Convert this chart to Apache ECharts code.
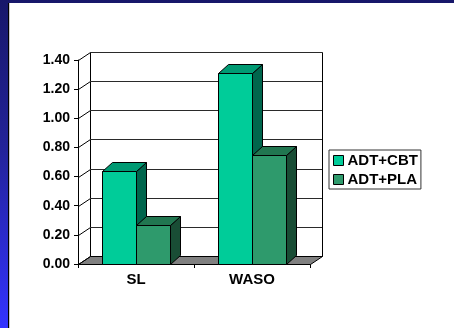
<!DOCTYPE html>
<html>
<head>
<meta charset="utf-8">
<script src="https://cdn.jsdelivr.net/npm/echarts@6/dist/echarts.min.js"></script>
<style>
  html, body { margin: 0; padding: 0; width: 454px; height: 328px; overflow: hidden; }
  body { background: linear-gradient(to bottom, #17176a 0%, #232399 45%, #3333ff 100%); position: relative; }
  #sheet { position: absolute; left: 8px; top: 3px; right: 0; bottom: 0; background: #fff;
           border-left: 1px solid #000; box-shadow: inset 1px 0 0 #c8c8c8; }
  #chart { position: absolute; left: 0; top: 0; width: 454px; height: 328px; }
</style>
</head>
<body>
<div id="sheet"></div>
<div id="chart"></div>
<script>
// Sleep measures by treatment arm
const categories = ['SL', 'WASO'];
const seriesNames = ['ADT+CBT', 'ADT+PLA'];
const cbtValues = [0.64, 1.31];
const plaValues = [0.27, 0.75];
const yTicks = [0, 0.2, 0.4, 0.6, 0.8, 1.0, 1.2, 1.4];

// 3D look: offset of the back wall and of each column's depth
const WALL_DX = 12, WALL_DY = -8;
const BAR_DX = 10, BAR_DY = -9;
const BAR_RATIO = 0.29;
const FONT = '"Liberation Sans", Arial, sans-serif';

const palettes = [
  { front: '#00cc99', top: '#009a73', side: '#00664d' },
  { front: '#2e9a6c', top: '#217650', side: '#194d35' }
];

function renderWalls(params, api) {
  const cs = params.coordSys;
  const x0 = Math.round(cs.x), x1 = Math.round(cs.x + cs.width);
  const yb = Math.round(cs.y + cs.height), yt = Math.round(cs.y);
  const children = [];
  // back wall panel
  children.push({
    type: 'rect',
    shape: { x: x0 + WALL_DX + 0.5, y: yt + WALL_DY + 0.5, width: x1 - x0, height: yb - yt },
    style: { fill: '#fff', stroke: '#000', lineWidth: 1 }
  });
  // floor
  children.push({
    type: 'polygon',
    shape: { points: [[x0 + 0.5, yb + 0.5], [x1 + 0.5, yb + 0.5],
                      [x1 + WALL_DX + 0.5, yb + WALL_DY + 0.5], [x0 + WALL_DX + 0.5, yb + WALL_DY + 0.5]] },
    style: { fill: '#808080', stroke: '#000', lineWidth: 1 }
  });
  yTicks.forEach(function (v) {
    const y = Math.round(api.coord([0, v])[1]);
    // side wall and back wall gridlines
    children.push({
      type: 'line',
      shape: { x1: x0 + 0.5, y1: y + 0.5, x2: x0 + WALL_DX + 0.5, y2: y + WALL_DY + 0.5 },
      style: { stroke: '#000', lineWidth: 1 }
    });
    if (v > 0) {
      children.push({
        type: 'line',
        shape: { x1: x0 + WALL_DX, y1: y + WALL_DY + 0.5, x2: x1 + WALL_DX, y2: y + WALL_DY + 0.5 },
        style: { stroke: '#2a2a2a', lineWidth: 1 }
      });
    }
  });
  return { type: 'group', children: children };
}

function makeBarRenderer(idx) {
  const pal = palettes[idx];
  return function (params, api) {
    const cat = api.value(0), val = api.value(1);
    const base = api.coord([cat, 0]);
    const top = api.coord([cat, val]);
    const bw = Math.round(api.size([1, 0])[0] * BAR_RATIO);
    const left = Math.round(base[0]) - bw + idx * bw + 0.5;
    const right = left + bw;
    const ty = Math.round(top[1]) + 0.5;
    const by = Math.round(base[1]) + 0.5;
    const line = { stroke: '#000', lineWidth: 1 };
    return {
      type: 'group',
      children: [
        { type: 'polygon',
          shape: { points: [[right, ty], [right + BAR_DX, ty + BAR_DY], [right + BAR_DX, by + BAR_DY], [right, by]] },
          style: Object.assign({ fill: pal.side }, line) },
        { type: 'polygon',
          shape: { points: [[left, ty], [left + BAR_DX, ty + BAR_DY], [right + BAR_DX, ty + BAR_DY], [right, ty]] },
          style: Object.assign({ fill: pal.top }, line) },
        { type: 'rect',
          shape: { x: left, y: ty, width: bw, height: by - ty },
          style: Object.assign({ fill: pal.front }, line) }
      ]
    };
  };
}

const chart = echarts.init(document.getElementById('chart'), null, { renderer: 'canvas' });

chart.setOption({
  animation: false,
  backgroundColor: 'transparent',
  grid: { left: 78, top: 60, width: 232, height: 204, containLabel: false },
  legend: {
    data: seriesNames,
    orient: 'vertical',
    left: 329,
    top: 150,
    padding: [3, 3, 2, 4],
    itemGap: 4,
    itemWidth: 10,
    itemHeight: 10,
    itemStyle: { borderColor: '#000', borderWidth: 1 },
    icon: 'rect',
    borderColor: '#333',
    borderWidth: 1,
    backgroundColor: '#fff',
    selectedMode: false,
    textStyle: { fontFamily: FONT, fontWeight: 'bold', fontSize: 15, color: '#000', padding: [0, 0, 0, -1], lineHeight: 15 }
  },
  xAxis: {
    type: 'category',
    data: categories,
    boundaryGap: true,
    axisLine: { show: true, lineStyle: { color: '#000', width: 1 } },
    axisTick: { show: true, length: 4, lineStyle: { color: '#000' } },
    axisLabel: { margin: 8, fontFamily: FONT, fontWeight: 'bold', fontSize: 15, color: '#000' },
    splitLine: { show: false }
  },
  yAxis: {
    type: 'value',
    min: 0,
    max: 1.4,
    interval: 0.2,
    axisLine: { show: true, lineStyle: { color: '#000', width: 1 } },
    axisTick: { show: true, length: 4, lineStyle: { color: '#000' } },
    axisLabel: {
      margin: 8, fontFamily: FONT, fontWeight: 'bold', fontSize: 14, color: '#000',
      formatter: function (v) { return v.toFixed(2); }
    },
    splitLine: { show: false }
  },
  series: [
    {
      name: 'walls',
      type: 'custom',
      renderItem: renderWalls,
      data: [[0, 0]],
      silent: true,
      z: 1
    },
    {
      name: seriesNames[0],
      type: 'custom',
      renderItem: makeBarRenderer(0),
      itemStyle: { color: palettes[0].front },
      encode: { x: 0, y: 1 },
      data: cbtValues.map(function (v, i) { return [i, v]; }),
      z: 2
    },
    {
      name: seriesNames[1],
      type: 'custom',
      renderItem: makeBarRenderer(1),
      itemStyle: { color: palettes[1].front },
      encode: { x: 0, y: 1 },
      data: plaValues.map(function (v, i) { return [i, v]; }),
      z: 3
    }
  ]
});
</script>
</body>
</html>
